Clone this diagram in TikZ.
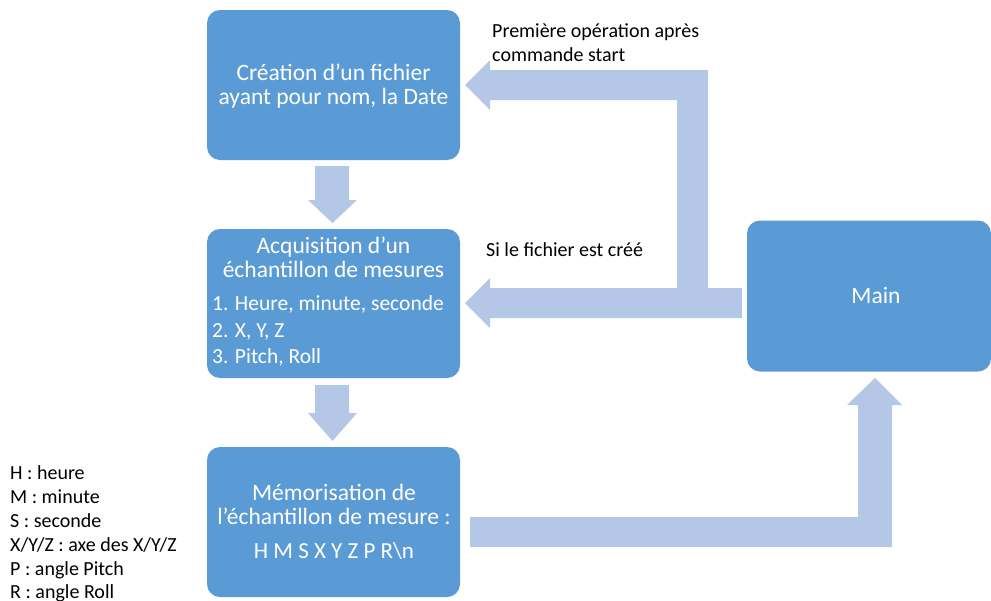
\documentclass[tikz,border=0pt]{standalone}
\usepackage{fontspec}
\setmainfont{Carlito}
\usetikzlibrary{calc}
\definecolor{boxblue}{HTML}{5B9BD5}
\definecolor{arrowblue}{HTML}{B4C7E7}
\begin{document}
\begin{tikzpicture}[x=1pt,y=-1pt,
  procbox/.style={rectangle, rounded corners=13pt, fill=boxblue, draw=none, inner sep=0pt},
  boxtxt/.style={text=white, font=\fontsize{23.5}{27}\selectfont, inner sep=0pt, anchor=base},
  boxtxtl/.style={text=white, font=\fontsize{21.5}{25}\selectfont, inner sep=0pt, anchor=base west},
  blacktxt/.style={text=black, font=\fontsize{20}{24}\selectfont, inner sep=0pt, anchor=base west},
  blockarrow/.style={fill=arrowblue, draw=none}]
\useasboundingbox (0,0) rectangle (991,600);

% boxes
\node[procbox, minimum width=253pt, minimum height=150pt] (b1) at (333.5,85) {};
\node[procbox, minimum width=253pt, minimum height=149pt] (b2) at (333.5,303.5) {};
\node[procbox, minimum width=253pt, minimum height=150pt] (b3) at (333.5,522) {};
\node[procbox, minimum width=244pt, minimum height=151pt] (main) at (869,296) {};

% box texts
\node[boxtxt] (t1a) at (333.5,80) {Création d’un fichier};
\node[boxtxt] (t1b) at (333.5,104) {ayant pour nom, la Date};

\node[boxtxt] (t2a) at (333.5,253) {Acquisition d’un};
\node[boxtxt] (t2b) at (333.5,277) {échantillon de mesures};
\node[boxtxtl] (t2c) at (212,310) {1. Heure, minute, seconde};
\node[boxtxtl] (t2d) at (212,337) {2. X, Y, Z};
\node[boxtxtl] (t2e) at (212,363) {3. Pitch, Roll};

\node[boxtxt] (t3a) at (334,500) {Mémorisation de};
\node[boxtxt] (t3b) at (334,524) {l’échantillon de mesure :};
\node[boxtxt, font=\fontsize{23}{27}\selectfont] (t3c) at (334,558) {H M S X Y Z P R\textbackslash n};

\node[boxtxt] (tm) at (876,303) {Main};

% labels
\node[blacktxt] (l1) at (492,37) {Première opération après};
\node[blacktxt] (l2) at (492,61) {commande start};
\node[blacktxt] (l3) at (486,256.5) {Si le fichier est créé};

\node[blacktxt] (g1) at (10,479) {H : heure};
\node[blacktxt] (g2) at (10,503) {M : minute};
\node[blacktxt] (g3) at (10,527) {S : seconde};
\node[blacktxt] (g4) at (10,551) {X/Y/Z : axe des X/Y/Z};
\node[blacktxt] (g5) at (10,575) {P : angle Pitch};
\node[blacktxt] (g6) at (10,598) {R : angle Roll};

% down arrows
\fill[blockarrow] (315,166) -- (349,166) -- (349,200) -- (357,200) -- (332.5,223)
  -- (308,200) -- (315,200) -- cycle;
\fill[blockarrow] (315,385) -- (349,385) -- (349,413) -- (357,413) -- (332.5,441)
  -- (308,413) -- (315,413) -- cycle;

% bent arrow from Main to boxes 1 and 2
\fill[blockarrow] (742,288) -- (708,288) -- (708,70) -- (490,70) -- (490,60) -- (465,85)
  -- (490,110) -- (490,100) -- (677,100) -- (677,288) -- (490,288) -- (490,278)
  -- (465,303) -- (490,328) -- (490,318) -- (742,318) -- cycle;

% arrow from box 3 to Main
\fill[blockarrow] (470,517) -- (858,517) -- (858,405) -- (847,405) -- (875,378)
  -- (902,405) -- (892,405) -- (892,547) -- (470,547) -- cycle;
\end{tikzpicture}
\end{document}
